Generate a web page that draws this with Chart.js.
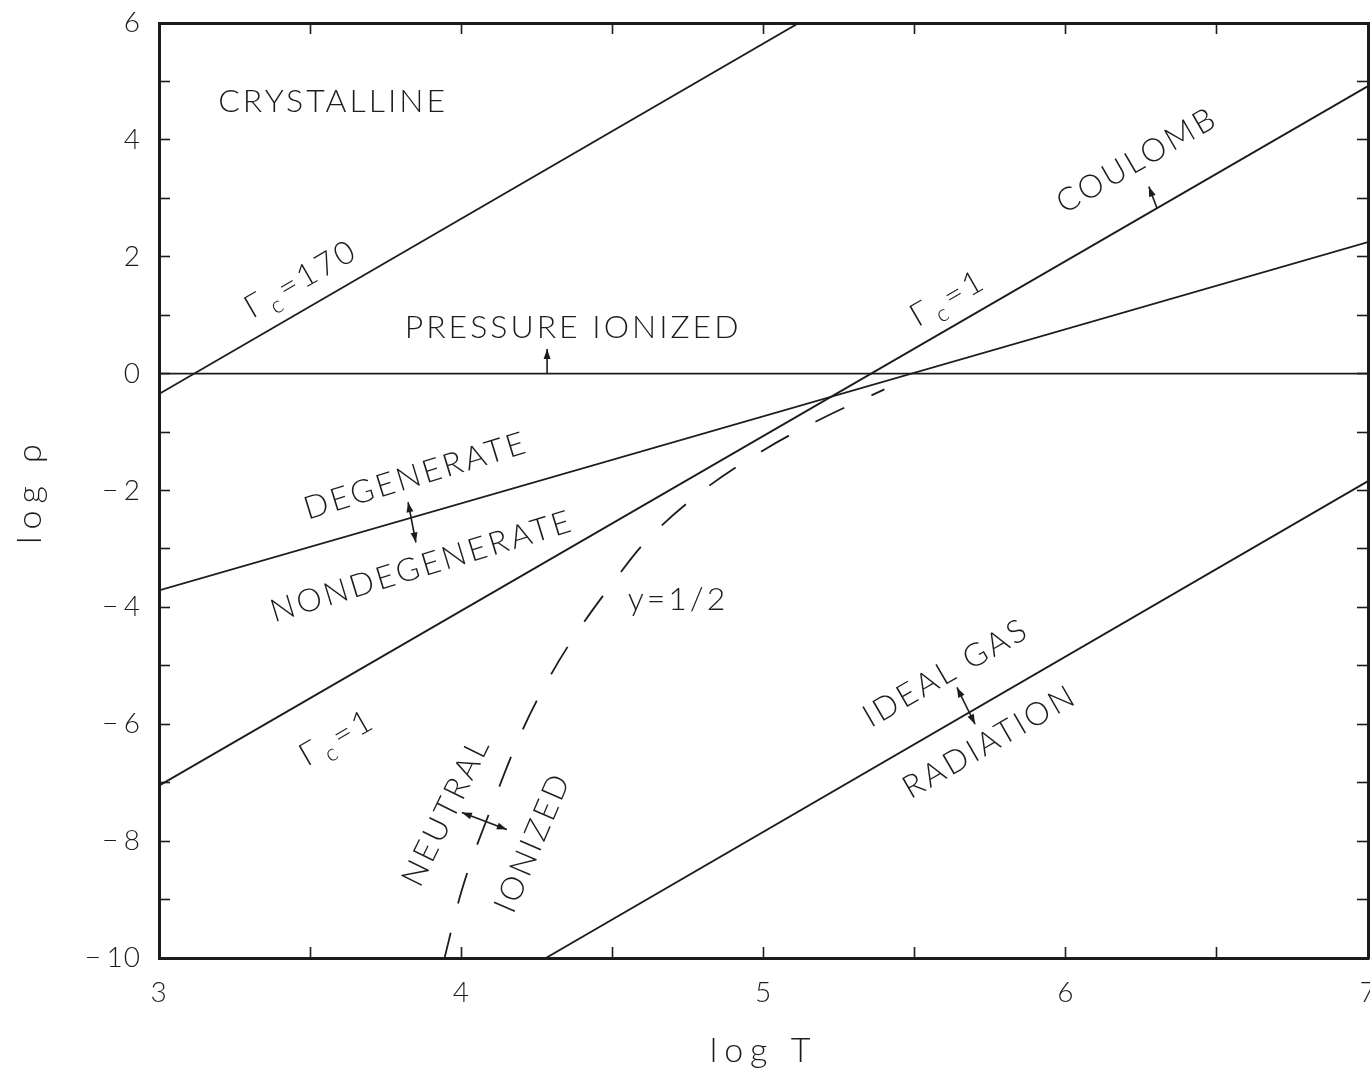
<!DOCTYPE html>
<html>
<head>
<meta charset="utf-8">
<script src="https://cdn.jsdelivr.net/npm/chart.js@4/dist/chart.umd.min.js"></script>
<style>
  html, body { margin: 0; padding: 0; background: #fff; overflow: hidden; }
  #wrap { position: relative; width: 1400px; height: 1076px; }
</style>
</head>
<body>
<div id="wrap"><canvas id="phase"></canvas></div>
<script>
// Boundary curves in the (log T, log rho) plane
const meltT   = [3.0, 5.13];           // Gamma_c = 170 (crystallization)
const meltRho = [-0.35, 6.04];
const coulT   = [3.0, 7.0];            // Gamma_c = 1
const coulRho = [-7.05, 4.92];
const degT    = [3.0, 7.0];            // degenerate / nondegenerate
const degRho  = [-3.71, 2.25];
const pionT   = [3.0, 7.0];            // pressure ionization
const pionRho = [0.0, 0.0];
const radT    = [4.28, 7.0];           // ideal gas / radiation
const radRho  = [-10.0, -1.84];
const ionT    = [3.94, 4.0, 4.1, 4.2, 4.3, 4.4, 4.5, 4.6, 4.8, 5.0, 5.2, 5.4];   // y = 1/2
const ionRho  = [-10.1, -8.87, -7.42, -6.13, -5.12, -4.30, -3.59, -2.93, -2.00, -1.31, -0.75, -0.27];

// Labelled tick values
const xMajorTicks = [3, 4, 5, 6, 7];
const yMajorTicks = [-10, -8, -6, -4, -2, 0, 2, 4, 6];

const INK = '#1c1c1c';
const FAMILY = "Lato, 'Open Sans', 'Liberation Sans', Arial, sans-serif";
const WEIGHT = 300;

const pairs = (xs, ys) => xs.map((x, i) => ({ x, y: ys[i] }));

// Region names and curve labels, anchored in data coordinates
const regionLabels = [
  { parts: ['CRYSTALLINE'], t: 3.576, rho: 4.66, angle: 0 },
  { parts: ['\u0393', { sub: 'c' }, '=170'], t: 3.47, rho: 1.62, angle: -30 },
  { parts: ['PRESSURE IONIZED'], t: 4.37, rho: 0.78, angle: 0 },
  { parts: ['\u0393', { sub: 'c' }, '=1'], t: 5.61, rho: 1.29, angle: -30 },
  { parts: ['COULOMB'], t: 6.236, rho: 3.65, angle: -30 },
  { parts: ['DEGENERATE'], t: 3.85, rho: -1.75, angle: -17 },
  { parts: ['NONDEGENERATE'], t: 3.87, rho: -3.30, angle: -17 },
  { parts: ['\u0393', { sub: 'c' }, '=1'], t: 3.589, rho: -6.23, angle: -30 },
  { parts: ['y=1/2'], t: 4.717, rho: -3.87, angle: 0 },
  { parts: ['NEUTRAL'], t: 3.95, rho: -7.49, angle: -64 },
  { parts: ['IONIZED'], t: 4.237, rho: -8.02, angle: -67 },
  { parts: ['IDEAL GAS'], t: 5.604, rho: -5.12, angle: -30 },
  { parts: ['RADIATION'], t: 5.749, rho: -6.30, angle: -30 }
];

// Direction arrows across the boundaries
const arrows = [
  { from: [4.284, 0.0],  to: [4.284, 0.42], both: false },
  { from: [6.302, 2.83], to: [6.275, 3.20], both: false },
  { from: [3.850, -2.89], to: [3.824, -2.20], both: true },
  { from: [4.151, -7.80], to: [4.002, -7.51], both: true },
  { from: [5.700, -6.00], to: [5.640, -5.37], both: true }
];

function drawRich(ctx, parts, size) {
  const mainFont = `${WEIGHT} ${size}px ${FAMILY}`;
  const subFont = `${WEIGHT} ${Math.round(size * 0.72)}px ${FAMILY}`;
  const items = parts.map(p => {
    const isSub = typeof p === 'object';
    const text = isSub ? p.sub : p;
    ctx.font = isSub ? subFont : mainFont;
    return { text, isSub, w: ctx.measureText(text).width + (isSub ? 4 : 0) };
  });
  const total = items.reduce((s, it) => s + it.w, 0);
  let x = -total / 2;
  ctx.textAlign = 'left';
  ctx.textBaseline = 'middle';
  for (const it of items) {
    ctx.font = it.isSub ? subFont : mainFont;
    ctx.fillText(it.text, x + (it.isSub ? 2 : 0), it.isSub ? size * 0.34 : 0);
    x += it.w;
  }
}

function arrowHead(ctx, x0, y0, x1, y1) {
  const a = Math.atan2(y1 - y0, x1 - x0);
  const len = 10, half = 3.5;
  ctx.beginPath();
  ctx.moveTo(x1, y1);
  ctx.lineTo(x1 - len * Math.cos(a) + half * Math.sin(a), y1 - len * Math.sin(a) - half * Math.cos(a));
  ctx.lineTo(x1 - len * Math.cos(a) - half * Math.sin(a), y1 - len * Math.sin(a) + half * Math.cos(a));
  ctx.closePath();
  ctx.fill();
}

// Letter spacing: wide for the axis titles, slight for tick labels
const textSpacing = {
  id: 'textSpacing',
  beforeDraw(chart) { chart.ctx.letterSpacing = '7px'; },
  beforeDatasetsDraw(chart) { chart.ctx.letterSpacing = '1px'; },
  afterDraw(chart) { chart.ctx.letterSpacing = '0px'; }
};

const labelPlugin = {
  id: 'regionLabels',
  afterDatasetsDraw(chart) {
    const { ctx } = chart;
    const xs = chart.scales.x, ys = chart.scales.y;
    ctx.save();
    ctx.fillStyle = INK;
    ctx.strokeStyle = INK;
    ctx.letterSpacing = '3px';
    for (const lab of regionLabels) {
      ctx.save();
      ctx.translate(xs.getPixelForValue(lab.t), ys.getPixelForValue(lab.rho));
      ctx.rotate(lab.angle * Math.PI / 180);
      drawRich(ctx, lab.parts, 32);
      ctx.restore();
    }
    ctx.lineWidth = 1.6;
    for (const a of arrows) {
      const x0 = xs.getPixelForValue(a.from[0]), y0 = ys.getPixelForValue(a.from[1]);
      const x1 = xs.getPixelForValue(a.to[0]), y1 = ys.getPixelForValue(a.to[1]);
      ctx.beginPath();
      ctx.moveTo(x0, y0);
      ctx.lineTo(x1, y1);
      ctx.stroke();
      arrowHead(ctx, x0, y0, x1, y1);
      if (a.both) arrowHead(ctx, x1, y1, x0, y0);
    }
    ctx.restore();
  }
};

const lineStyle = { borderColor: INK, borderWidth: 1.8, pointRadius: 0, showLine: true, fill: false, tension: 0 };

const tickFont = { family: FAMILY, size: 28, weight: WEIGHT };
const titleFont = { family: FAMILY, size: 34, weight: WEIGHT };
const gridStyle = { drawOnChartArea: false, tickLength: -11, tickColor: INK, tickWidth: 1.6 };
const borderStyle = { display: true, color: INK, width: 3 };
const fmtRho = v => (v < 0 ? '\u2212\u2009' + Math.abs(v) : String(v));

// Fixed axis box sizes, without the extra edge padding reserved for labels
const fixBox = (w, h) => s => {
  if (w !== null) s.width = w;
  if (h !== null) s.height = h;
  s.paddingTop = 0; s.paddingBottom = 0; s.paddingLeft = 0; s.paddingRight = 0;
};

new Chart(document.getElementById('phase'), {
  type: 'scatter',
  data: {
    datasets: [
      { label: 'Gamma_c = 170', data: pairs(meltT, meltRho), ...lineStyle },
      { label: 'Gamma_c = 1', data: pairs(coulT, coulRho), ...lineStyle },
      { label: 'degeneracy', data: pairs(degT, degRho), ...lineStyle },
      { label: 'pressure ionization', data: pairs(pionT, pionRho), ...lineStyle },
      { label: 'radiation', data: pairs(radT, radRho), ...lineStyle },
      { label: 'y = 1/2', data: pairs(ionT, ionRho), ...lineStyle, borderDash: [32, 30], cubicInterpolationMode: 'monotone' }
    ]
  },
  options: {
    responsive: true,
    maintainAspectRatio: false,
    animation: false,
    events: [],
    layout: { padding: { top: 23, right: 32, bottom: 0, left: 0 } },
    plugins: { legend: { display: false }, tooltip: { enabled: false } },
    scales: {
      x: {
        type: 'linear', position: 'bottom', min: 3, max: 7,
        grid: gridStyle, border: borderStyle,
        ticks: {
          stepSize: 0.5, autoSkip: false, maxRotation: 0, color: INK, font: tickFont, padding: 29, z: 1,
          callback: v => (xMajorTicks.includes(v) ? String(v) : '')
        },
        title: { display: true, text: 'log T', color: INK, font: titleFont, padding: { top: 0, bottom: 5 } },
        afterFit: fixBox(null, 118)
      },
      xTop: {
        type: 'linear', position: 'top', min: 3, max: 7,
        grid: gridStyle, border: borderStyle,
        ticks: { stepSize: 0.5, autoSkip: false, display: false },
        afterFit: fixBox(null, 0)
      },
      y: {
        type: 'linear', position: 'left', min: -10, max: 6,
        grid: gridStyle, border: borderStyle,
        ticks: {
          stepSize: 1, autoSkip: false, color: INK, font: tickFont, padding: 29, z: 1,
          callback: v => (yMajorTicks.includes(v) ? fmtRho(v) : '')
        },
        title: { display: true, text: 'log \u03C1', color: INK, font: titleFont, padding: { top: 10, bottom: 0 } },
        afterFit: fixBox(159, null)
      },
      yRight: {
        type: 'linear', position: 'right', min: -10, max: 6,
        grid: gridStyle, border: borderStyle,
        ticks: { stepSize: 1, autoSkip: false, display: false },
        afterFit: fixBox(0, null)
      }
    }
  },
  plugins: [textSpacing, labelPlugin]
});
</script>
</body>
</html>
